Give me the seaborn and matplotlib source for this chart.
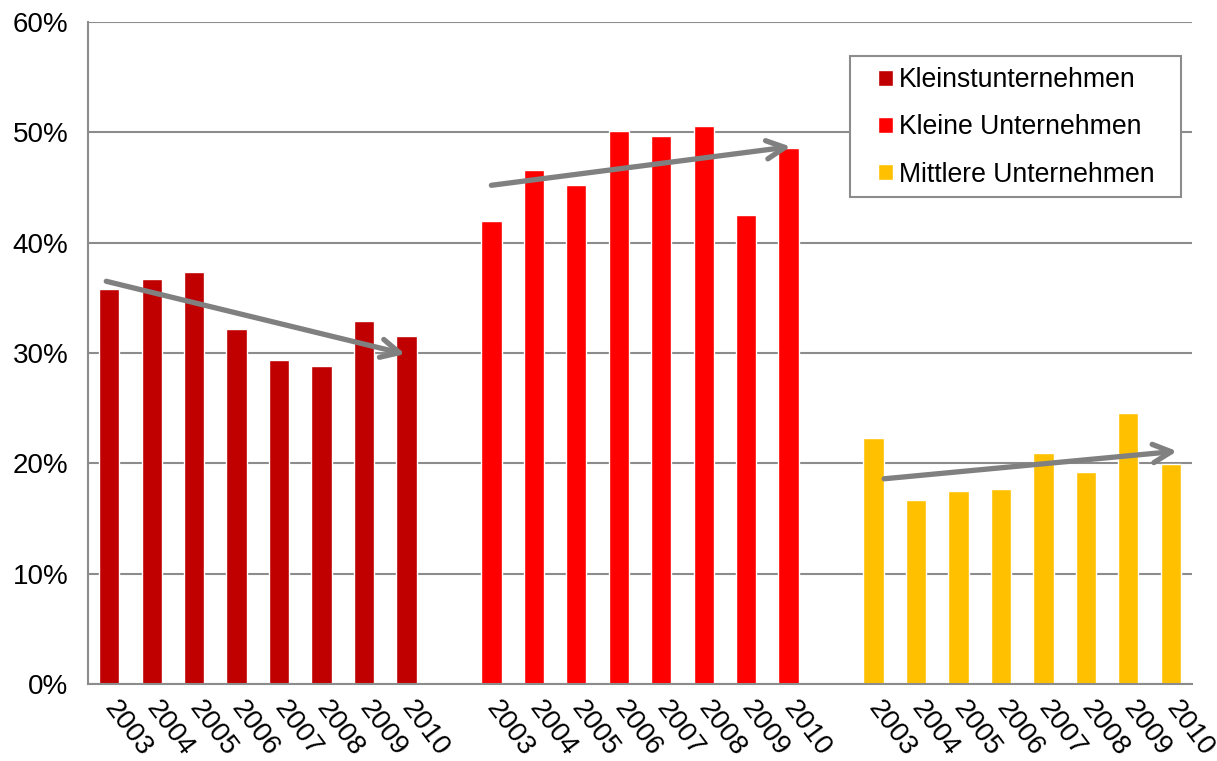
import matplotlib
matplotlib.use("Agg")
import matplotlib.pyplot as plt
import pandas as pd
import seaborn as sns
from matplotlib.patches import Rectangle

years = ["2003", "2004", "2005", "2006", "2007", "2008", "2009", "2010"]
groups = ["Kleinstunternehmen", "Kleine Unternehmen", "Mittlere Unternehmen"]
kleinst = [35.8, 36.7, 37.3, 32.2, 29.4, 28.8, 32.9, 31.5]
kleine = [42.0, 46.6, 45.2, 50.1, 49.7, 50.6, 42.5, 48.6]
mittlere = [22.3, 16.7, 17.5, 17.7, 20.9, 19.2, 24.6, 19.9]
colors = ["#C00000", "#FF0000", "#FFC000"]

# trend arrows: (start slot, start value, end slot, end value)
trends = [(-0.07, 36.5, 6.97, 29.9), (9.0, 45.2, 16.05, 48.7), (18.25, 18.6, 25.15, 21.1)]

rows = []
for g, vals in zip(groups, [kleinst, kleine, mittlere]):
    for y, v in zip(years, vals):
        rows.append({"slot": f"{g}|{y}", "year": y, "group": g, "value": v})
df = pd.DataFrame(rows)

order = []
labels = []
for i, g in enumerate(groups):
    order += [f"{g}|{y}" for y in years]
    labels += years
    if i < len(groups) - 1:
        order.append(f"gap{i}")
        labels.append("")

sns.set_theme(style="white")
plt.rcParams["font.family"] = ["Liberation Sans", "DejaVu Sans"]
plt.rcParams["text.color"] = "black"
plt.rcParams["xtick.labelcolor"] = "black"
plt.rcParams["ytick.labelcolor"] = "black"

fig = plt.figure(figsize=(12.17, 7.61), dpi=100)
ax = fig.add_axes([88 / 1217, 77 / 761, 1104 / 1217, 662 / 761])

sns.barplot(data=df, x="slot", y="value", hue="group", order=order,
            palette=colors, dodge=False, width=0.48, ax=ax, saturation=1)

for x0, y0, x1, y1 in trends:
    ax.annotate("", xy=(x1, y1), xytext=(x0, y0),
                arrowprops=dict(arrowstyle="->,head_length=1.1,head_width=0.55",
                                color="#808080", lw=3.8, capstyle="round",
                                joinstyle="round", shrinkA=0, shrinkB=0))

fs = 20
ax.set_xlim(-0.5, len(order) - 0.5)
ax.set_ylim(0, 60)
ax.set_yticks(range(0, 61, 10))
ax.set_yticklabels([f"{t}%" for t in range(0, 61, 10)], fontsize=fs)
ax.set_xticks(range(len(order)))
ax.set_xticklabels(labels, fontsize=fs, rotation=-53, ha="left", va="center",
                   rotation_mode="anchor")
ax.tick_params(axis="x", length=0, pad=14)
ax.tick_params(axis="y", length=6, width=1.5, color="#8c8c8c", pad=8)
ax.set_xlabel("")
ax.set_ylabel("")

ax.yaxis.grid(True, color="#8c8c8c", lw=1.5)
ax.set_axisbelow(True)
for s in ["top", "right"]:
    ax.spines[s].set_visible(False)
for s in ["left", "bottom"]:
    ax.spines[s].set_color("#8c8c8c")
    ax.spines[s].set_linewidth(1.5)

# legend box drawn separately so the inner padding matches the original
ax.add_patch(Rectangle((0.6902, 0.7356), 0.2998, 0.213, transform=ax.transAxes,
                       facecolor="white", edgecolor="#8c8c8c", lw=1.5, zorder=5))
leg = ax.legend(loc="upper left", bbox_to_anchor=(0.7156, 0.932), fontsize=19.2,
                frameon=False, handlelength=0.55, handleheight=0.55,
                handletextpad=0.25, labelspacing=0.8, borderpad=0,
                borderaxespad=0)
leg.set_zorder(6)

fig.savefig("out.png", dpi=100)
